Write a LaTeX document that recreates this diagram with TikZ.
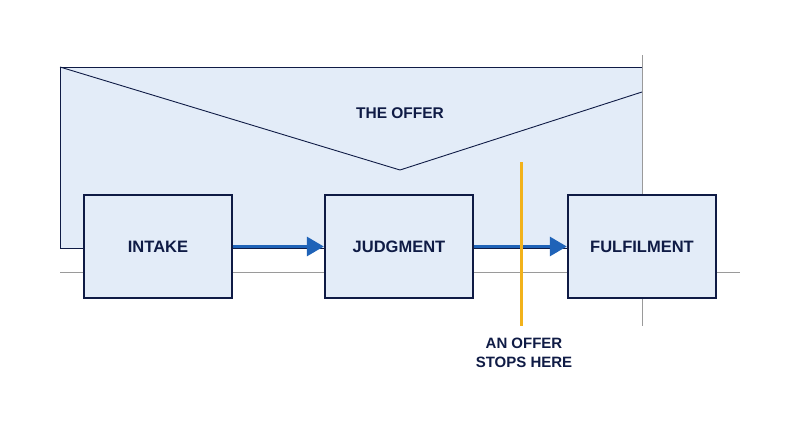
\documentclass[tikz,border=0pt]{standalone}
\usepackage{fontspec}
\setmainfont{Liberation Sans}
\usetikzlibrary{arrows.meta}
\definecolor{navy}{HTML}{0F1B45}
\definecolor{fillb}{HTML}{E3ECF8}
\definecolor{arr}{HTML}{1F63B8}
\definecolor{org}{HTML}{F2B21B}
\definecolor{gr}{HTML}{9A9A9A}
\begin{document}
\begin{tikzpicture}[x=1pt,y=-1pt,
  box/.style={draw=navy,line width=2.4pt,fill=fillb,minimum width=148pt,minimum height=103pt,font=\bfseries\fontsize{16.5}{19}\selectfont,text=navy},
  flow/.style={draw=arr,line width=3.2pt,-{Triangle[length=17pt,width=19pt]}},
  lbl/.style={font=\bfseries\fontsize{15}{19}\selectfont,text=navy,align=center}]
\path[use as bounding box] (0,0) rectangle (800,447);
\fill[fillb] (60,67) rectangle (642,248);
\draw[navy,line width=0.7pt] (60,67) rectangle (642,248);
\draw[navy,line width=0.9pt] (60,67) -- (400,170) -- (642,92);
\node[lbl,font=\bfseries\fontsize{15.5}{18}\selectfont] (offer) at (400,113) {THE OFFER};
\draw[gr,line width=0.6pt] (60,272) -- (740,272);
\draw[gr,line width=0.6pt] (642,55) -- (642,326);
\node[box] (intake) at (158,246.5) {INTAKE};
\node[box] (judg) at (399,246.5) {JUDGMENT};
\node[box] (ful) at (642,246.5) {FULFILMENT};
\draw[flow] (intake) -- (judg);
\draw[flow] (judg) -- (ful);
\coordinate (ot) at (521,162);
\coordinate (ob) at (521,326);
\draw[org,line width=3pt] (ot) -- (ob);
\node[lbl] (stop) at (524,353) {AN OFFER\\STOPS HERE};
\end{tikzpicture}
\end{document}
